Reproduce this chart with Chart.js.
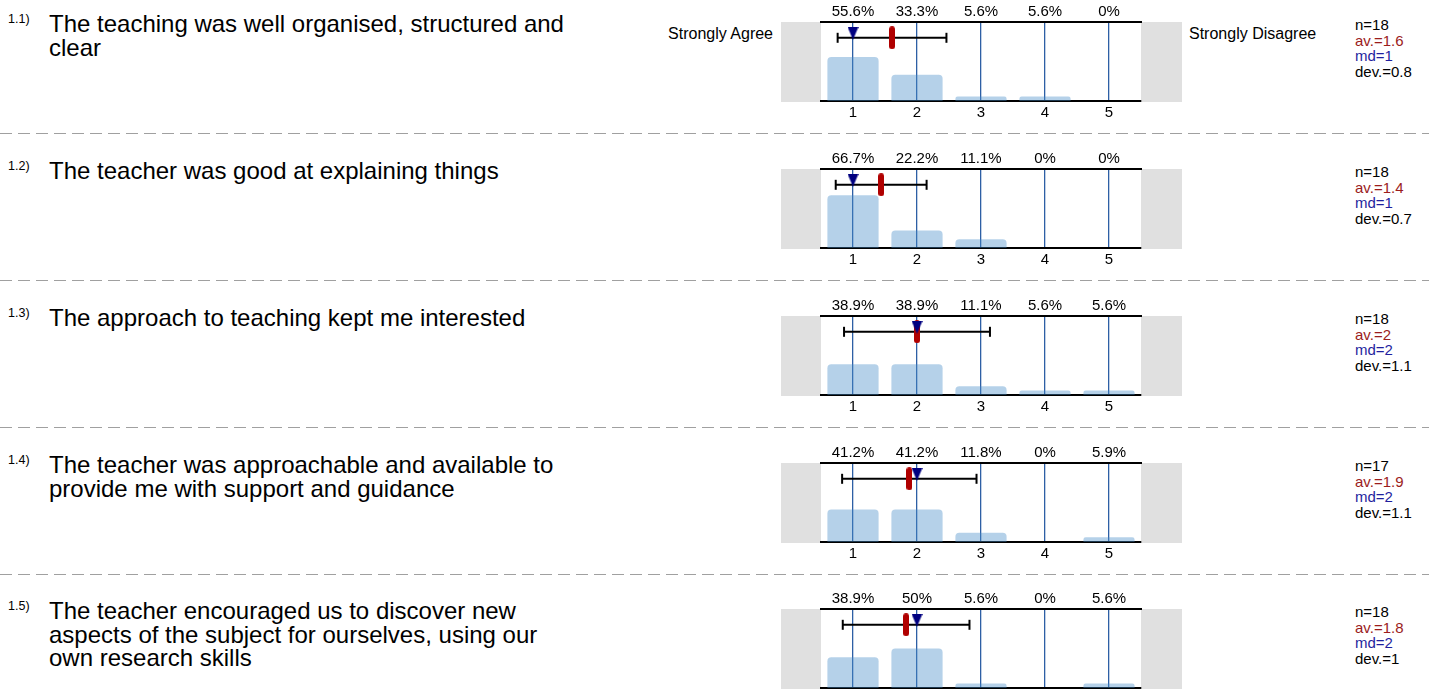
<!DOCTYPE html>
<html>
<head>
<meta charset="utf-8">
<script src="https://cdn.jsdelivr.net/npm/chart.js@4.4.1/dist/chart.umd.min.js"></script>
<style>
  body { margin: 0; background: #fff; font-family: "Liberation Sans", Arial, sans-serif; color: #000;
         width: 1429px; height: 693px; overflow: hidden; position: relative; }
  .row { position: absolute; left: 0; width: 1429px; height: 147px; }
  .num { position: absolute; left: 8px; top: 13px; font-size: 12.5px; line-height: 12px; }
  .question { position: absolute; left: 49px; top: 12px; font-size: 24px; line-height: 23.5px; white-space: nowrap; }
  .poleLeft { position: absolute; left: 560px; width: 213px; text-align: right; top: 26px; font-size: 16px; line-height: 16px; }
  .poleRight { position: absolute; left: 1189px; top: 26px; font-size: 16px; line-height: 16px; }
  .stats { position: absolute; left: 1355px; top: 17px; font-size: 15px; line-height: 15.5px; }
  .stats .av { color: #9b1c1c; }
  .stats .md { color: #1f1f9e; }
  .sep { position: absolute; left: 0; width: 1429px; height: 1px;
         background: repeating-linear-gradient(90deg, #a0a0a0 0 12px, transparent 12px 18px); }
  canvas { position: absolute; left: 771px; top: 0; }
</style>
</head>
<body>
<script>
const questionNumbers = ['1.1)', '1.2)', '1.3)', '1.4)', '1.5)'];
const questionLines = [
  ['The teaching was well organised, structured and', 'clear'],
  ['The teacher was good at explaining things'],
  ['The approach to teaching kept me interested'],
  ['The teacher was approachable and available to', 'provide me with support and guidance'],
  ['The teacher encouraged us to discover new', 'aspects of the subject for ourselves, using our', 'own research skills']
];
const scaleLabels = ['1', '2', '3', '4', '5'];

const percentQ1 = [55.6, 33.3, 5.6, 5.6, 0];
const percentQ2 = [66.7, 22.2, 11.1, 0, 0];
const percentQ3 = [38.9, 38.9, 11.1, 5.6, 5.6];
const percentQ4 = [41.2, 41.2, 11.8, 0, 5.9];
const percentQ5 = [38.9, 50, 5.6, 0, 5.6];
const percents = [percentQ1, percentQ2, percentQ3, percentQ4, percentQ5];

const nValues = [18, 18, 18, 17, 18];
const avValues = [1.6, 1.4, 2, 1.9, 1.8];
const mdValues = [1, 1, 2, 2, 2];
const devValues = [0.8, 0.7, 1.1, 1.1, 1];

// marker positions
const meanPos = [1.61, 1.44, 2.0, 1.88, 1.83];
const spread = [0.85, 0.71, 1.14, 1.05, 0.99];

const rowTops = [0, 147, 294, 441, 587];
const fontFamily = '"Liberation Sans", Arial, sans-serif';
const markerLevel = 0.8;

function makePill() {
  const c = document.createElement('canvas');
  c.width = 6; c.height = 23;
  const g = c.getContext('2d');
  g.fillStyle = '#b00000';
  g.beginPath();
  g.roundRect(0, 0, 6, 23, 3);
  g.fill();
  return c;
}

function makeTriangle() {
  const c = document.createElement('canvas');
  c.width = 11; c.height = 22;
  const g = c.getContext('2d');
  g.fillStyle = '#000080';
  g.beginPath();
  g.moveTo(0, 0);
  g.lineTo(11, 0);
  g.lineTo(5.5, 13);
  g.closePath();
  g.fill();
  return c;
}

const pillImg = makePill();
const triangleImg = makeTriangle();

const sideBoxes = {
  id: 'sideBoxes',
  beforeDraw(chart) {
    const { ctx, chartArea: a } = chart;
    ctx.save();
    ctx.fillStyle = '#e0e0e0';
    ctx.fillRect(a.left - 40, a.top, 40, a.bottom - a.top + 1);
    ctx.fillRect(a.right, a.top, 41, a.bottom - a.top + 1);
    ctx.restore();
  }
};

questionNumbers.forEach((num, i) => {
  const row = document.createElement('div');
  row.className = 'row';
  row.style.top = rowTops[i] + 'px';

  let html = '<div class="num">' + num + '</div>' +
    '<div class="question">' + questionLines[i].join('<br>') + '</div>' +
    '<div class="stats">n=' + nValues[i] + '<br><span class="av">av.=' + avValues[i] +
    '</span><br><span class="md">md=' + mdValues[i] + '</span><br>dev.=' + devValues[i] + '</div>';
  if (i === 0) {
    html += '<div class="poleLeft">Strongly Agree</div><div class="poleRight">Strongly Disagree</div>';
  }
  row.innerHTML = html;

  const canvas = document.createElement('canvas');
  canvas.width = 420;
  canvas.height = 125;
  row.appendChild(canvas);
  document.body.appendChild(row);

  if (i < questionNumbers.length - 1) {
    const sep = document.createElement('div');
    sep.className = 'sep';
    sep.style.top = (rowTops[i] + 133) + 'px';
    document.body.appendChild(sep);
  }

  new Chart(canvas, {
    type: 'bar',
    data: {
      labels: scaleLabels,
      datasets: [
        {
          type: 'scatter',
          data: [{ x: mdValues[i], y: markerLevel }],
          xAxisID: 'xv', yAxisID: 'ye',
          pointStyle: triangleImg, pointRadius: 6
        },
        {
          type: 'scatter',
          data: [{ x: meanPos[i], y: markerLevel }],
          xAxisID: 'xv', yAxisID: 'ye',
          pointStyle: pillImg, pointRadius: 6
        },
        {
          type: 'line',
          data: [{ x: meanPos[i] - spread[i], y: markerLevel }, { x: meanPos[i] + spread[i], y: markerLevel }],
          xAxisID: 'xv', yAxisID: 'ye',
          borderColor: '#000', borderWidth: 2,
          pointStyle: 'line', pointRotation: 90, pointRadius: 5,
          pointBorderWidth: 2, pointBorderColor: '#000'
        },
        {
          data: percents[i],
          xAxisID: 'x', yAxisID: 'y',
          backgroundColor: 'rgba(70,140,200,0.4)',
          borderRadius: 4,
          borderSkipped: 'start',
          grouped: false,
          barPercentage: 0.8,
          categoryPercentage: 1
        }
      ]
    },
    options: {
      responsive: false,
      animation: false,
      layout: { padding: { left: 50, right: 50, top: 0, bottom: 0 } },
      plugins: { legend: { display: false }, tooltip: { enabled: false } },
      scales: {
        x: {
          type: 'category', position: 'bottom', offset: true,
          grid: { display: true, offset: false, color: 'rgb(45,95,165)', lineWidth: 1.3, drawTicks: false },
          border: { display: true, color: '#000', width: 2 },
          ticks: { color: '#000', font: { family: fontFamily, size: 15 }, padding: 3, maxRotation: 0, autoSkip: false },
          afterFit: s => { s.height = 24; }
        },
        xt: {
          type: 'category', position: 'top', offset: true,
          labels: percents[i].map(v => v + '%'),
          grid: { display: false, drawTicks: false },
          border: { display: true, color: '#000', width: 2 },
          ticks: { color: '#000', font: { family: fontFamily, size: 15 }, padding: 1, maxRotation: 0, autoSkip: false },
          afterFit: s => { s.height = 22; }
        },
        xv: { type: 'linear', display: false, offset: false, min: 0.5, max: 5.5 },
        y: { type: 'linear', display: false, min: 0, max: 100 },
        ye: { type: 'linear', display: false, min: 0, max: 1 }
      }
    },
    plugins: [sideBoxes]
  });
});
</script>
</body>
</html>
